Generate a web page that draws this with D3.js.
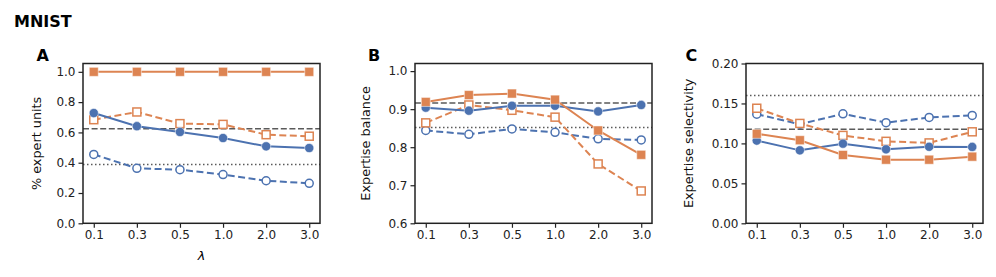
<!DOCTYPE html>
<html>
<head>
<meta charset="utf-8">
<script src="https://cdn.jsdelivr.net/npm/d3@7"></script>
<style>
  body { margin: 0; background: #fff; }
  svg { font-family: "DejaVu Sans", sans-serif; }
</style>
</head>
<body>
<svg id="chart" width="996" height="277"></svg>
<script>
const lambdas = ["0.1", "0.3", "0.5", "1.0", "2.0", "3.0"];

// panel A: % expert units
const expertSolidBlue = [0.728, 0.641, 0.603, 0.563, 0.508, 0.497];
const expertSolidOrange = [1.0, 1.0, 1.0, 1.0, 1.0, 1.0];
const expertOpenBlue = [0.455, 0.363, 0.354, 0.322, 0.281, 0.264];
const expertOpenOrange = [0.684, 0.735, 0.658, 0.653, 0.585, 0.575];
const expertRefs = [0.625, 0.389];
const expertTicks = [0.0, 0.2, 0.4, 0.6, 0.8, 1.0];

// panel B: expertise balance
const balanceSolidBlue = [0.904, 0.896, 0.909, 0.909, 0.894, 0.911];
const balanceSolidOrange = [0.919, 0.937, 0.941, 0.925, 0.844, 0.780];
const balanceOpenBlue = [0.844, 0.834, 0.848, 0.839, 0.822, 0.819];
const balanceOpenOrange = [0.864, 0.911, 0.897, 0.879, 0.756, 0.685];
const balanceRefs = [0.916, 0.852];
const balanceTicks = [0.6, 0.7, 0.8, 0.9, 1.0];

// panel C: expertise selectivity
const selectSolidBlue = [0.1035, 0.0913, 0.0997, 0.0926, 0.0958, 0.0956];
const selectSolidOrange = [0.112, 0.104, 0.0855, 0.0796, 0.0796, 0.0834];
const selectOpenBlue = [0.1366, 0.124, 0.137, 0.126, 0.1325, 0.135];
const selectOpenOrange = [0.144, 0.125, 0.110, 0.1026, 0.1006, 0.1145];
const selectRefs = [0.1177, 0.160];
const selectTicks = [0.0, 0.05, 0.1, 0.15, 0.2];

const blue = "#4c72b0";
const orange = "#dd8452";
const svg = d3.select("#chart");

svg.append("text")
  .attr("x", 14).attr("y", 26.5)
  .attr("font-size", 16).attr("font-weight", "bold")
  .text("MNIST");

const panels = [
  { letter: "A", letterX: 36.5, left: 83, labelOff: 42.5, label: "% expert units", domain: [0, 1.055],
    ticks: expertTicks, fmt: d3.format(".1f"), refs: expertRefs, xlabel: true,
    series: [expertOpenBlue, expertOpenOrange, expertSolidBlue, expertSolidOrange] },
  { letter: "B", letterX: 368, left: 415, labelOff: 45, label: "Expertise balance", domain: [0.6, 1.02],
    ticks: balanceTicks, fmt: d3.format(".1f"), refs: balanceRefs, xlabel: false,
    series: [balanceOpenBlue, balanceOpenOrange, balanceSolidBlue, balanceSolidOrange] },
  { letter: "C", letterX: 685.5, left: 746, labelOff: 53, label: "Expertise selectivity", domain: [0, 0.2],
    ticks: selectTicks, fmt: d3.format(".2f"), refs: selectRefs, xlabel: false,
    series: [selectOpenBlue, selectOpenOrange, selectSolidBlue, selectSolidOrange] }
];

const plotTop = 63.5, plotBottom = 223.3, plotW = 237;
const styles = [
  { color: blue, dash: "7,3.5", shape: "circle", filled: false },
  { color: orange, dash: "7,3.5", shape: "square", filled: false },
  { color: blue, dash: null, shape: "circle", filled: true },
  { color: orange, dash: null, shape: "square", filled: true }
];

panels.forEach((p) => {
  const x = d3.scaleLinear().domain([-0.25, lambdas.length - 0.75])
    .range([p.left, p.left + plotW]);
  const y = d3.scaleLinear().domain(p.domain).range([plotBottom, plotTop]);
  const g = svg.append("g");

  // reference lines
  p.refs.forEach((r, i) => {
    g.append("line")
      .attr("x1", p.left).attr("x2", p.left + plotW)
      .attr("y1", y(r)).attr("y2", y(r))
      .attr("stroke", "#5a5a5a").attr("stroke-width", 1.5)
      .attr("stroke-dasharray", i === 0 ? "6,2.6" : "1.5,2.5");
  });

  // series
  p.series.forEach((vals, si) => {
    const st = styles[si];
    const line = d3.line().x((d, i) => x(i)).y((d) => y(d));
    g.append("path")
      .attr("d", line(vals))
      .attr("fill", "none")
      .attr("stroke", st.color).attr("stroke-width", 2)
      .attr("stroke-dasharray", st.dash);
    vals.forEach((v, i) => {
      let m;
      if (st.shape === "circle") {
        m = g.append("circle").attr("cx", x(i)).attr("cy", y(v))
          .attr("r", st.filled ? 4.6 : 4);
      } else {
        const s = st.filled ? 9 : 8;
        m = g.append("rect").attr("x", x(i) - s / 2).attr("y", y(v) - s / 2)
          .attr("width", s).attr("height", s);
      }
      if (st.filled) {
        m.attr("fill", st.color).attr("stroke", "#fff")
          .attr("stroke-opacity", 0.5).attr("stroke-width", 1);
      } else {
        m.attr("fill", "#fff").attr("stroke", st.color).attr("stroke-width", 1.5);
      }
    });
  });

  // axes
  const yAxis = g.append("g")
    .attr("transform", `translate(${p.left},0)`)
    .call(d3.axisLeft(y).tickValues(p.ticks).tickFormat(p.fmt).tickSize(4.5).tickPadding(3));
  const xAxis = g.append("g")
    .attr("transform", `translate(0,${plotBottom})`)
    .call(d3.axisBottom(x).tickValues(d3.range(lambdas.length))
      .tickFormat((i) => lambdas[i]).tickSize(4.5).tickPadding(3));
  [yAxis, xAxis].forEach((a) => {
    a.select(".domain").remove();
    a.selectAll("line").attr("stroke", "#222").attr("stroke-width", 1.2);
    a.selectAll("text").attr("font-size", 12).attr("fill", "#222")
      .attr("font-family", "DejaVu Sans");
  });

  g.append("rect")
    .attr("x", p.left).attr("y", plotTop)
    .attr("width", plotW).attr("height", plotBottom - plotTop)
    .attr("fill", "none").attr("stroke", "#222").attr("stroke-width", 1.5);

  g.append("text")
    .attr("transform", `translate(${p.left - p.labelOff},${(plotTop + plotBottom) / 2}) rotate(-90)`)
    .attr("text-anchor", "middle")
    .attr("font-size", 12.8).attr("fill", "#111")
    .text(p.label);

  g.append("text")
    .attr("x", p.letterX).attr("y", 61)
    .attr("font-size", 16).attr("font-weight", "bold")
    .text(p.letter);

  if (p.xlabel) {
    g.append("text")
      .attr("x", p.left + plotW / 2).attr("y", 259.5)
      .attr("text-anchor", "middle")
      .attr("font-size", 12.8).attr("font-style", "italic")
      .text("λ");
  }
});
</script>
</body>
</html>
